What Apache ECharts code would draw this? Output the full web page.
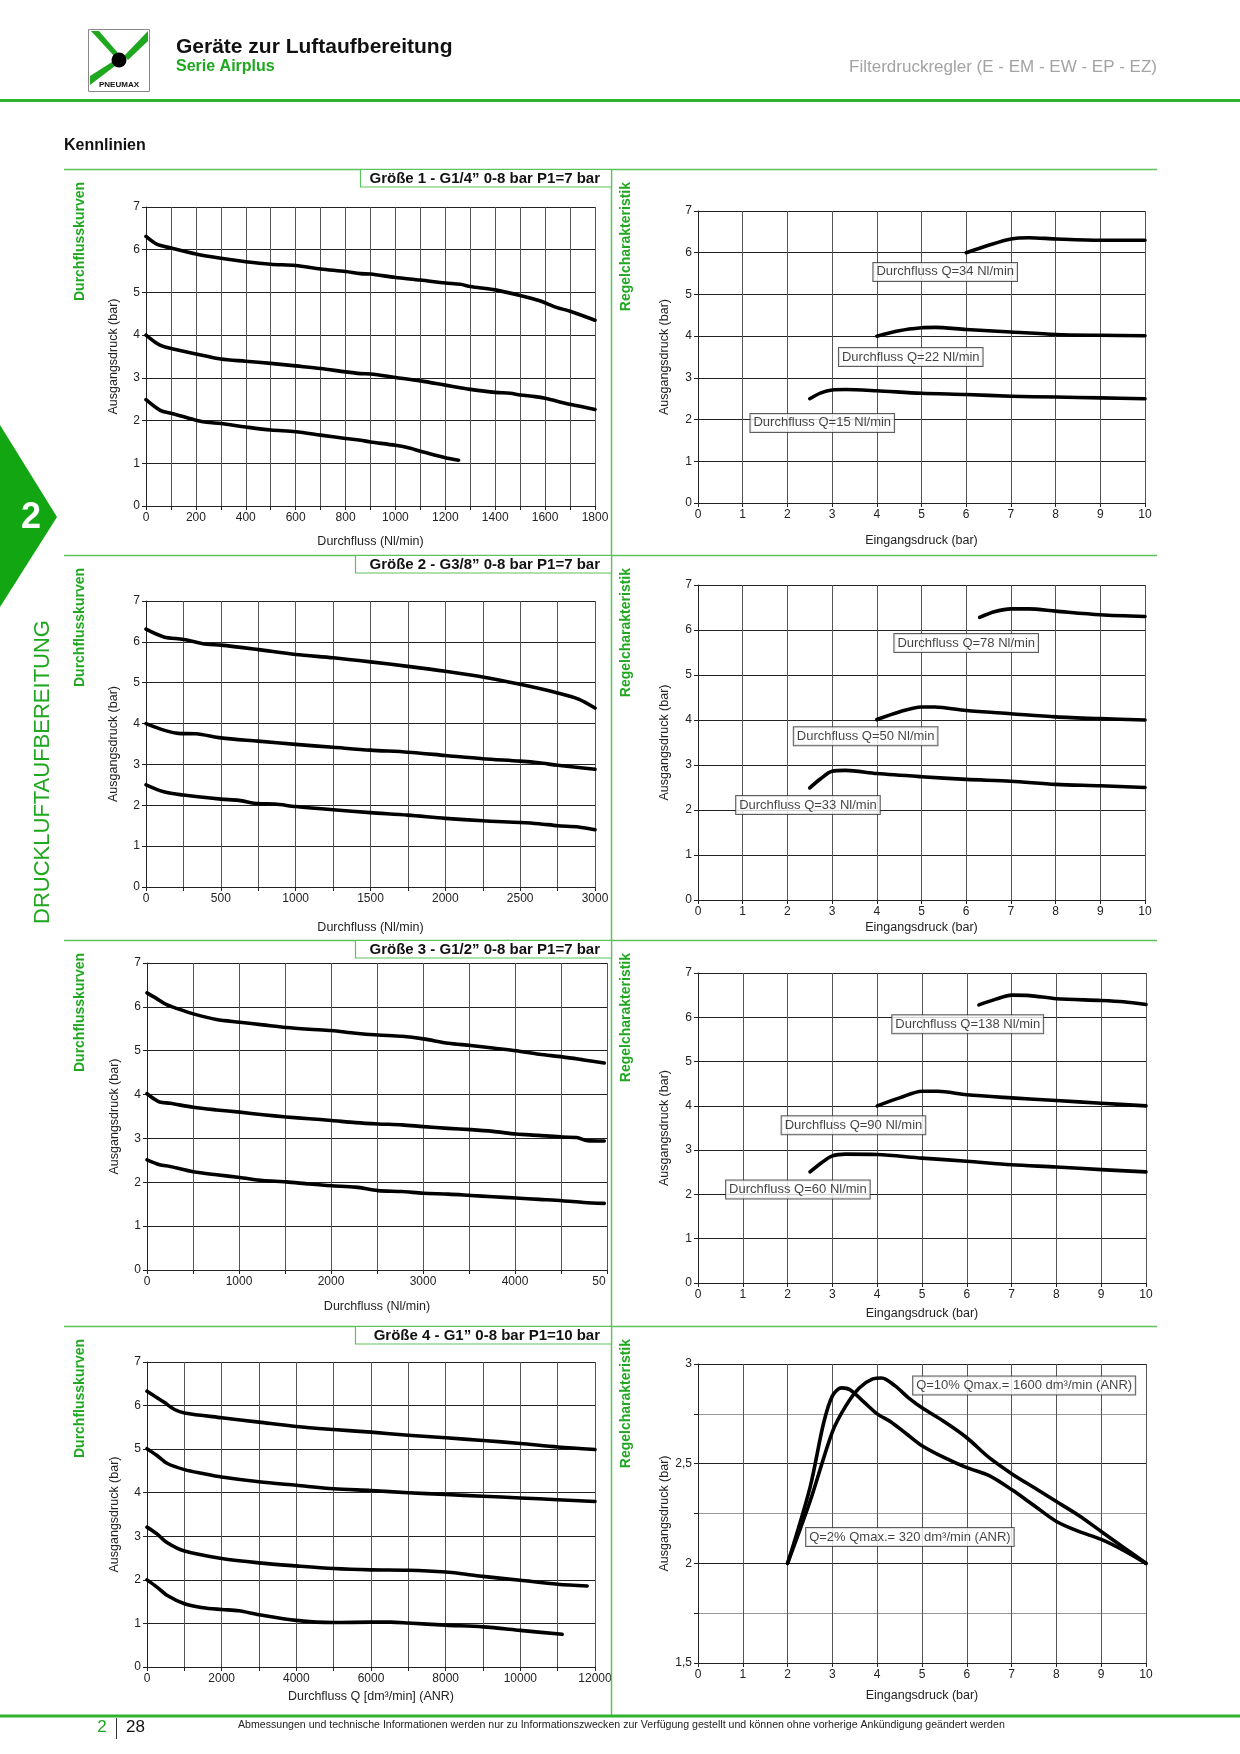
<!DOCTYPE html>
<html><head><meta charset="utf-8">
<script src="https://cdn.jsdelivr.net/npm/echarts@6/dist/echarts.min.js"></script>
<style>html,body{margin:0;padding:0;background:#fff}#c{width:1240px;height:1754px}</style>
</head><body><div id="c"></div><script>
// ---------- DATA ----------
// Durchflusskurven (x: flow, y: Ausgangsdruck bar)
const flow1High = [[0,6.31],[43,6.13],[100,6.04],[200,5.90],[300,5.80],[400,5.72],[500,5.66],[600,5.63],[700,5.55],[800,5.49],[860,5.44],[900,5.43],[1000,5.35],[1100,5.29],[1200,5.22],[1260,5.19],[1300,5.14],[1400,5.06],[1500,4.93],[1575,4.81],[1645,4.65],[1700,4.56],[1800,4.35]];
const flow1Mid  = [[0,4.00],[43,3.81],[72,3.73],[100,3.69],[200,3.56],[300,3.44],[400,3.39],[500,3.34],[600,3.28],[700,3.22],[800,3.14],[860,3.10],[900,3.09],[1000,3.01],[1100,2.93],[1200,2.83],[1260,2.77],[1300,2.73],[1400,2.66],[1460,2.64],[1500,2.60],[1560,2.56],[1600,2.52],[1700,2.38],[1800,2.26]];
const flow1Low  = [[0,2.49],[57,2.24],[100,2.17],[200,2.01],[243,1.96],[300,1.93],[400,1.85],[500,1.78],[600,1.74],[700,1.66],[800,1.58],[860,1.54],[900,1.50],[1000,1.42],[1060,1.35],[1100,1.28],[1160,1.19],[1200,1.13],[1253,1.07]];

const flow2High = [[0,6.31],[119,6.12],[251,6.06],[406,5.94],[500,5.92],[750,5.81],[1000,5.69],[1250,5.61],[1500,5.51],[1750,5.40],[2000,5.28],[2250,5.14],[2500,4.96],[2750,4.75],[2890,4.60],[3000,4.38]];
const flow2Mid  = [[0,4.00],[119,3.84],[215,3.76],[334,3.75],[500,3.65],[750,3.57],[1000,3.49],[1250,3.42],[1500,3.35],[1750,3.30],[2000,3.22],[2250,3.14],[2500,3.08],[2625,3.04],[2750,2.98],[3000,2.88]];
const flow2Low  = [[0,2.50],[119,2.33],[251,2.25],[500,2.15],[620,2.12],[750,2.04],[860,2.03],[1000,1.97],[1250,1.89],[1500,1.82],[1750,1.76],[2000,1.68],[2250,1.62],[2500,1.58],[2625,1.55],[2750,1.50],[2890,1.47],[3000,1.40]];

const flow3High = [[0,6.32],[97,6.20],[213,6.05],[329,5.96],[504,5.84],[756,5.71],[1008,5.65],[1260,5.59],[1512,5.53],[1764,5.49],[2004,5.46],[2267,5.40],[2512,5.36],[2771,5.33],[3004,5.27],[3275,5.17],[3519,5.12],[3760,5.06],[4012,5.00],[4263,4.92],[4515,4.86],[4748,4.79],[4970,4.72]];
const flow3Mid  = [[0,4.02],[78,3.90],[136,3.83],[252,3.80],[504,3.71],[756,3.65],[1008,3.60],[1260,3.54],[1512,3.49],[1764,3.45],[2004,3.41],[2267,3.36],[2512,3.33],[2771,3.31],[3004,3.27],[3275,3.23],[3519,3.20],[3760,3.16],[4012,3.10],[4263,3.07],[4515,3.03],[4670,3.02],[4787,2.95],[4970,2.94]];
const flow3Low  = [[0,2.51],[136,2.40],[252,2.36],[504,2.24],[756,2.17],[1008,2.11],[1260,2.04],[1512,2.01],[1764,1.96],[2004,1.92],[2267,1.89],[2512,1.81],[2771,1.79],[3004,1.75],[3275,1.73],[3519,1.70],[3760,1.67],[4012,1.64],[4263,1.61],[4515,1.58],[4748,1.54],[4970,1.52]];

const flow4A = [[0,6.33],[450,6.08],[737,5.91],[1005,5.83],[2000,5.72],[3000,5.62],[4000,5.52],[5000,5.45],[6000,5.39],[7000,5.32],[8000,5.26],[9000,5.20],[10000,5.13],[11000,5.05],[12000,4.99]];
const flow4B = [[0,5.01],[258,4.86],[545,4.67],[1005,4.53],[1500,4.44],[2000,4.36],[3000,4.25],[4000,4.17],[5000,4.09],[6000,4.05],[7000,4.00],[8000,3.96],[9000,3.92],[10000,3.88],[11000,3.84],[12000,3.80]];
const flow4C = [[0,3.21],[258,3.06],[545,2.85],[1005,2.66],[2000,2.49],[3000,2.39],[4000,2.32],[5000,2.26],[6000,2.23],[7000,2.22],[8000,2.18],[8540,2.13],[9000,2.08],[10000,1.99],[11000,1.90],[11790,1.86]];
const flow4D = [[0,2.00],[258,1.84],[545,1.64],[1005,1.45],[1500,1.36],[2000,1.32],[2460,1.29],[3000,1.20],[4000,1.07],[5000,1.02],[6000,1.03],[6530,1.03],[7000,1.01],[8000,0.96],[9000,0.92],[10000,0.84],[11120,0.75]];

// Regelcharakteristik (x: Eingangsdruck bar, y: Ausgangsdruck bar)
const reg1Q34 = [[6.0,6.0],[6.5,6.18],[7.0,6.33],[7.4,6.36],[8.0,6.33],[9.0,6.30],[10,6.30]];
const reg1Q22 = [[4.0,4.0],[4.5,4.13],[5.0,4.20],[5.3,4.21],[6.0,4.16],[7.0,4.10],[8.0,4.04],[9.0,4.02],[10,4.01]];
const reg1Q15 = [[2.5,2.5],[2.75,2.64],[3.0,2.71],[3.3,2.72],[4.0,2.69],[5.0,2.63],[6.0,2.60],[7.0,2.56],[8.0,2.54],[9.0,2.52],[10,2.50]];

const reg2Q78 = [[6.3,6.28],[6.65,6.41],[7.0,6.47],[7.4,6.47],[8.0,6.42],[9.0,6.34],[10,6.30]];
const reg2Q50 = [[4.0,4.01],[4.5,4.18],[5.0,4.29],[5.3,4.29],[6.0,4.21],[7.0,4.14],[8.0,4.07],[9.0,4.03],[10,4.0]];
const reg2Q33 = [[2.5,2.49],[2.75,2.70],[3.0,2.86],[3.3,2.88],[4.0,2.81],[5.0,2.74],[6.0,2.68],[7.0,2.64],[8.0,2.57],[9.0,2.54],[10,2.50]];

const reg3Q138 = [[6.27,6.28],[6.65,6.41],[7.0,6.50],[7.4,6.49],[8.0,6.42],[9.0,6.38],[9.5,6.35],[10,6.29]];
const reg3Q90  = [[4.0,4.0],[4.5,4.18],[5.0,4.33],[5.35,4.33],[6.0,4.25],[7.0,4.18],[8.0,4.12],[9.0,4.06],[10,4.0]];
const reg3Q60  = [[2.5,2.51],[2.75,2.71],[3.0,2.87],[3.3,2.91],[4.0,2.90],[5.0,2.82],[6.0,2.75],[7.0,2.67],[8.0,2.62],[9.0,2.56],[10,2.51]];

const reg4Q10 = [[2.0,2.0],[2.5,2.31],[3.0,2.66],[3.3,2.79],[3.6,2.88],[3.9,2.925],[4.1,2.93],[4.4,2.89],[4.7,2.83],[5.0,2.78],[5.5,2.71],[6.0,2.63],[6.5,2.53],[7.0,2.45],[7.5,2.38],[8.0,2.31],[8.5,2.24],[9.0,2.16],[9.5,2.08],[10,2.0]];
const reg4Q2  = [[2.0,2.0],[2.5,2.38],[2.8,2.70],[3.0,2.84],[3.2,2.88],[3.4,2.87],[3.7,2.81],[4.0,2.75],[4.3,2.71],[4.65,2.65],[5.0,2.59],[5.5,2.53],[6.0,2.48],[6.5,2.44],[7.0,2.37],[7.5,2.29],[8.0,2.21],[8.5,2.16],[9.0,2.12],[9.5,2.065],[10,2.0]];

// annotation texts + anchor (data coordinates)
const regLabels = [
  [1, 'Durchfluss Q=34 Nl/min', 5.53, 5.54],
  [1, 'Durchfluss Q=22 Nl/min', 4.76, 3.50],
  [1, 'Durchfluss Q=15 Nl/min', 2.78, 1.92],
  [3, 'Durchfluss Q=78 Nl/min', 6.0, 5.71],
  [3, 'Durchfluss Q=50 Nl/min', 3.75, 3.64],
  [3, 'Durchfluss Q=33 Nl/min', 2.46, 2.11],
  [5, 'Durchfluss Q=138 Nl/min', 6.02, 5.84],
  [5, 'Durchfluss Q=90 Nl/min', 3.47, 3.56],
  [5, 'Durchfluss Q=60 Nl/min', 2.23, 2.11],
  [7, 'Q=10% Qmax.= 1600 dm³/min (ANR)', 7.28, 2.892],
  [7, 'Q=2% Qmax.= 320 dm³/min (ANR)', 4.73, 2.132]
];
const titles = ['Größe 1 - G1/4” 0-8 bar P1=7 bar','Größe 2 - G3/8” 0-8 bar P1=7 bar','Größe 3 - G1/2” 0-8 bar P1=7 bar','Größe 4 - G1” 0-8 bar P1=10 bar'];

// ---------- LAYOUT ----------
const FONT = '"Liberation Sans", Arial, Helvetica, sans-serif';
const GREEN = '#1fa81f';
const LGREEN = '#5cc25c';
const grids = [
  {left:146, top:207, width:449, height:299},
  {left:698, top:211, width:447, height:292},
  {left:146, top:601, width:449, height:286},
  {left:698, top:585, width:447, height:315},
  {left:147, top:963, width:460, height:307},
  {left:698, top:973, width:448, height:310},
  {left:147, top:1362, width:448, height:305},
  {left:698, top:1364, width:448, height:299}
];
grids.forEach(g => { g.outerBoundsMode = 'none'; g.containLabel = false; });

function xAx(i, max, interval, step, name, gap, fmt) {
  return {
    gridIndex:i, type:'value', min:0, max:max, interval:interval,
    name:name, nameLocation:'middle', nameGap:gap,
    nameTextStyle:{fontSize:12.5, color:'#222', fontFamily:FONT},
    axisLine:{show:true, onZero:false, lineStyle:{color:'#222', width:1}},
    axisTick:{show:true, length:4, lineStyle:{color:'#222'}},
    axisLabel:{fontSize:12, color:'#222', fontFamily:FONT, margin:6,
      formatter: fmt || (v => (Math.round(v) % step === 0 ? String(v) : '')),
      rich:{c:{fontSize:12, color:'#222', fontFamily:FONT, padding:[0,16,0,0]}}},
    splitLine:{show:true, lineStyle:{color:'#555', width:1}}
  };
}
function yAx(i, min, max, interval, gap, fmt, colors) {
  return {
    gridIndex:i, type:'value', min:min, max:max, interval:interval,
    name:'Ausgangsdruck (bar)', nameLocation:'middle', nameGap:gap,
    nameTextStyle:{fontSize:12.5, color:'#222', fontFamily:FONT},
    axisLine:{show:true, onZero:false, lineStyle:{color:'#222', width:1}},
    axisTick:{show:true, length:4, lineStyle:{color:'#222'}},
    axisLabel:{fontSize:12, color:'#222', fontFamily:FONT, margin:6, formatter: fmt || (v => String(v))},
    splitLine:{show:true, lineStyle:{color: colors || '#222', width:1}}
  };
}
const xAxes = [
  xAx(0, 1800, 100, 200, 'Durchfluss (Nl/min)', 29),
  xAx(1, 10, 1, 1, 'Eingangsdruck (bar)', 31),
  xAx(2, 3000, 250, 500, 'Durchfluss (Nl/min)', 34),
  xAx(3, 10, 1, 1, 'Eingangsdruck (bar)', 21),
  xAx(4, 5000, 500, 1000, 'Durchfluss (Nl/min)', 30, v => (v === 5000 ? '{c|50}' : (v % 1000 === 0 ? String(v) : ''))),
  xAx(5, 10, 1, 1, 'Eingangsdruck (bar)', 24),
  xAx(6, 12000, 1000, 2000, 'Durchfluss Q [dm³/min] (ANR)', 23),
  xAx(7, 10, 1, 1, 'Eingangsdruck (bar)', 26)
];
const yAxes = [
  yAx(0, 0, 7, 1, 26), yAx(1, 0, 7, 1, 27),
  yAx(2, 0, 7, 1, 26), yAx(3, 0, 7, 1, 27),
  yAx(4, 0, 7, 1, 26), yAx(5, 0, 7, 1, 27),
  yAx(6, 0, 7, 1, 26),
  yAx(7, 1.5, 3, 0.25, 27, v => (Math.abs(v*2 - Math.round(v*2)) < 1e-6 ? String(v).replace('.', ',') : ''), ['#222', '#999'])
];

const curves = [
  [0, flow1High], [0, flow1Mid], [0, flow1Low],
  [1, reg1Q34], [1, reg1Q22], [1, reg1Q15],
  [2, flow2High], [2, flow2Mid], [2, flow2Low],
  [3, reg2Q78], [3, reg2Q50], [3, reg2Q33],
  [4, flow3High], [4, flow3Mid], [4, flow3Low],
  [5, reg3Q138], [5, reg3Q90], [5, reg3Q60],
  [6, flow4A], [6, flow4B], [6, flow4C], [6, flow4D],
  [7, reg4Q10], [7, reg4Q2]
];
const series = curves.map(([i, d]) => ({
  type:'line', xAxisIndex:i, yAxisIndex:i, data:d, symbol:'none', smooth:0.3,
  lineStyle:{color:'#000', width:3.6, cap:'round', join:'round'}, z:5, silent:true
}));
regLabels.forEach(([i, txt, x, y]) => {
  series.push({
    type:'scatter', xAxisIndex:i, yAxisIndex:i, symbolSize:1, silent:true, z:10,
    itemStyle:{color:'rgba(0,0,0,0)'},
    data:[{name:txt, value:[x, y]}],
    label:{show:true, position:'inside', formatter:'{b}', fontSize:13, color:'#111', fontFamily:FONT,
      backgroundColor:'#ffffff', borderColor:'#333', borderWidth:1, padding:[3,3,2,3]}
  });
});

// ---------- PAGE DECORATION ----------
const G = [];
function txt(x, y, text, font, fill, align, valign, rot) {
  G.push({type:'text', x:x, y:y, rotation:rot || 0, silent:true, z:20,
    style:{text:text, font:font, fill:fill, align:align || 'left', verticalAlign:valign || 'middle'}});
}
function line(x1, y1, x2, y2, color, w) {
  G.push({type:'line', silent:true, z:15, shape:{x1:x1, y1:y1, x2:x2, y2:y2}, style:{stroke:color, lineWidth:w}});
}
// logo
G.push({type:'rect', silent:true, z:15, shape:{x:88.5, y:29.5, width:61, height:62}, style:{fill:'#fff', stroke:'#888', lineWidth:1}});
G.push({type:'polygon', silent:true, z:16, shape:{points:[[91,31],[99,31],[118,53],[114,56]]}, style:{fill:GREEN}});
G.push({type:'polygon', silent:true, z:16, shape:{points:[[148,31],[148,41],[128,60],[124,56]]}, style:{fill:GREEN}});
G.push({type:'polygon', silent:true, z:16, shape:{points:[[90,85],[90,76],[112,62],[115,66]]}, style:{fill:GREEN}});
G.push({type:'circle', silent:true, z:17, shape:{cx:119, cy:60, r:7.5}, style:{fill:'#000'}});
txt(119, 85, 'PNEUMAX', 'bold 8px ' + FONT, '#111', 'center', 'middle');
// header
txt(176, 47, 'Geräte zur Luftaufbereitung', 'bold 21px ' + FONT, '#111');
txt(176, 67, 'Serie Airplus', 'bold 16px ' + FONT, GREEN);
txt(1157, 67, 'Filterdruckregler (E - EM - EW - EP - EZ)', '17px ' + FONT, '#a3a3a3', 'right');
line(0, 100.5, 1240, 100.5, '#2cb42c', 3);
txt(64, 146, 'Kennlinien', 'bold 16px ' + FONT, '#111');
// side tab
G.push({type:'polygon', silent:true, z:15, shape:{points:[[0,425],[57,517],[0,607]]}, style:{fill:'#12a612'}});
txt(31, 518, '2', 'bold 36px ' + FONT, '#fff', 'center', 'middle');
txt(43, 772, 'DRUCKLUFTAUFBEREITUNG', '22px ' + FONT, GREEN, 'center', 'middle', Math.PI/2);
// rows
const rowTops = [169, 555, 940, 1326];
const rowBottoms = [555, 940, 1326, 1716];
const boxLefts = [360, 355, 355, 355];
rowTops.forEach((t, k) => {
  line(64, t + 0.5, 1157, t + 0.5, LGREEN, 1.5);
  line(611.5, t, 611.5, rowBottoms[k], LGREEN, 1.5);
  G.push({type:'rect', silent:true, z:16, shape:{x:boxLefts[k] + 0.5, y:t + 0.5, width:611 - boxLefts[k], height:17.5}, style:{fill:'#fff', stroke:LGREEN, lineWidth:1.2}});
  txt(600, t + 9.5, titles[k], 'bold 15px ' + FONT, '#111', 'right', 'middle');
  txt(80, t + 13, 'Durchflusskurven', 'bold 14px ' + FONT, GREEN, 'right', 'middle', Math.PI/2);
  txt(626, t + 13, 'Regelcharakteristik', 'bold 14px ' + FONT, GREEN, 'right', 'middle', Math.PI/2);
});
// footer
line(0, 1716, 1240, 1716, '#2cb42c', 3);
txt(102, 1727, '2', '17px ' + FONT, GREEN, 'center');
line(116.5, 1718, 116.5, 1739, '#333', 1);
txt(126, 1727, '28', '17px ' + FONT, '#111', 'left');
txt(238, 1725, 'Abmessungen und technische Informationen werden nur zu Informationszwecken zur Verfügung gestellt und können ohne vorherige Ankündigung geändert werden', '10.6px ' + FONT, '#222', 'left');

const chart = echarts.init(document.getElementById('c'), null, {renderer:'canvas', width:1240, height:1754});
chart.setOption({
  backgroundColor:'#fff', animation:false,
  grid:grids, xAxis:xAxes, yAxis:yAxes, series:series, graphic:G
});
</script></body></html>
